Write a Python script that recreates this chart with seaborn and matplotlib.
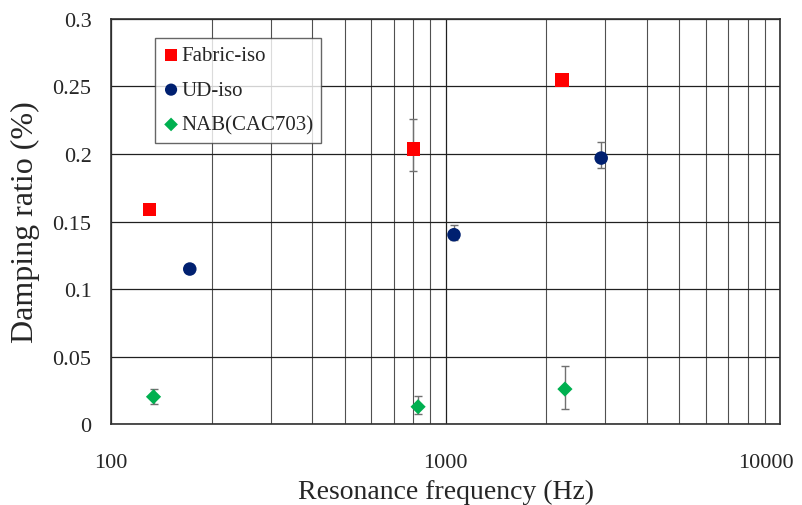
import pandas as pd
import numpy as np
import matplotlib
matplotlib.use("Agg")
import matplotlib.pyplot as plt
import matplotlib.transforms as mtransforms
import seaborn as sns

# data
series = ["Fabric-iso"] * 3 + ["UD-iso"] * 3 + ["NAB(CAC703)"] * 3
freq = [130, 800, 2230, 172, 1060, 2920, 134, 828, 2275]
damping = [0.159, 0.2037, 0.2548, 0.1148, 0.1402, 0.197, 0.0202, 0.0128, 0.0259]
err_low = [0, 0.016, 0, 0, 0.004, 0.0075, 0.0055, 0.005, 0.015]
err_high = [0, 0.0223, 0, 0, 0.0072, 0.0117, 0.0058, 0.0077, 0.0168]

veri = pd.DataFrame({"seri": series, "frekans": freq, "sonum": damping})

renkler = {"Fabric-iso": "#FF0000", "UD-iso": "#002070", "NAB(CAC703)": "#00B050"}
isaretler = {"Fabric-iso": "s", "UD-iso": "o", "NAB(CAC703)": "D"}
boyutlar = {"Fabric-iso": 90, "UD-iso": 95, "NAB(CAC703)": 60}

sns.set_style("white")
plt.rcParams["font.family"] = ["Liberation Serif", "DejaVu Serif"]

fig = plt.figure(figsize=(8.02, 5.06), dpi=100)
ax = fig.add_axes([0.1384, 0.160, 0.8342, 0.8005])

# error bars
ax.errorbar(freq, damping, yerr=[err_low, err_high], fmt="none",
            ecolor="#707070", elinewidth=1, capsize=3, capthick=1, zorder=2)

for s in renkler:
    sns.scatterplot(data=veri[veri["seri"] == s], x="frekans", y="sonum",
                    color=renkler[s], marker=isaretler[s], s=boyutlar[s],
                    edgecolor="none", label=s, ax=ax, zorder=3)

ax.set_xscale("log")
ax.set_xlim(100, 10000)
ax.set_ylim(0, 0.3)
ax.set_yticks([0, 0.05, 0.1, 0.15, 0.2, 0.25, 0.3])
ax.set_yticklabels(["0", "0.05", "0.1", "0.15", "0.2", "0.25", "0.3"])
ax.set_xticks([100, 1000, 10000])
ax.set_xticklabels(["100", "1000", "10000"])

ax.grid(True, which="major", color="#202020", linewidth=0.9)
ax.grid(True, which="minor", axis="x", color="#505050", linewidth=0.8)
ax.tick_params(axis="both", which="major", labelsize=16, length=4, direction="in")
ax.tick_params(axis="y", pad=14)
ax.tick_params(axis="x", pad=21)
ax.tick_params(axis="x", which="minor", length=0)
for sp in ax.spines.values():
    sp.set_color("#303030")
    sp.set_linewidth(1.2)

# son etiketi biraz sola kaydir, kesilmesin
son = ax.get_xticklabels()[-1]
son.set_transform(son.get_transform() + mtransforms.ScaledTranslation(-10 / 72, 0, fig.dpi_scale_trans))

ax.set_xlabel("Resonance frequency (Hz)", fontsize=20)
ax.set_ylabel("Damping ratio (%)", fontsize=23)
ax.xaxis.set_label_coords(0.5, -0.135)
ax.yaxis.set_label_coords(-0.106, 0.5)

leg = ax.legend(loc="upper left", bbox_to_anchor=(0.0658, 0.953), borderaxespad=0,
                fontsize=15, frameon=True, fancybox=False, edgecolor="#404040",
                handletextpad=0.1, labelspacing=0.73, borderpad=0.37,
                handlelength=0.8, markerscale=0.9)
leg.get_frame().set_linewidth(1.0)

plt.savefig("out.png", dpi=100)
